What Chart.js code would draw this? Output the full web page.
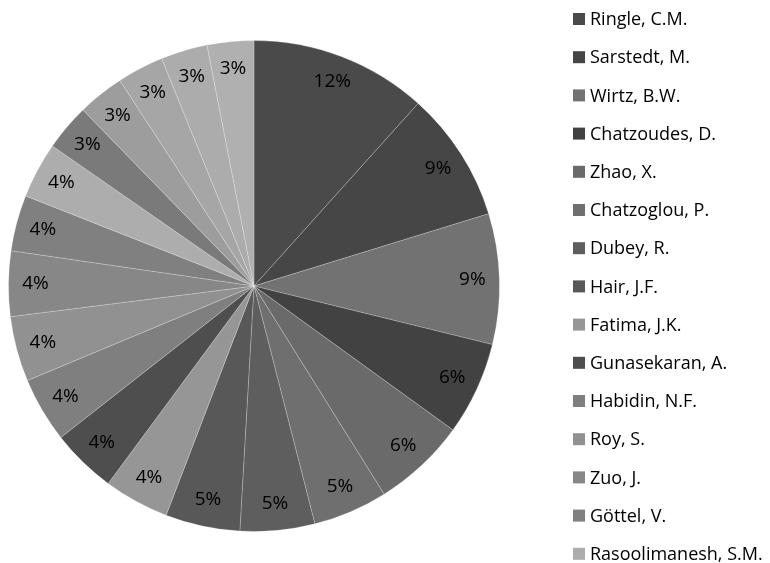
<!DOCTYPE html>
<html>
<head>
<meta charset="utf-8">
<script src="https://cdn.jsdelivr.net/npm/chart.js@4/dist/chart.umd.min.js"></script>
<style>
  html, body { margin: 0; padding: 0; background: #fff; }
  canvas { display: block; }
</style>
</head>
<body>
<canvas id="pie" width="770" height="563"></canvas>
<script>
// Authors (the legend only has room for the first 15, the rest fall off the bottom)
const authors = [
    'Ringle, C.M.', 'Sarstedt, M.', 'Wirtz, B.W.', 'Chatzoudes, D.', 'Zhao, X.',
    'Chatzoglou, P.', 'Dubey, R.', 'Hair, J.F.', 'Fatima, J.K.', 'Gunasekaran, A.',
    'Habidin, N.F.', 'Roy, S.', 'Zuo, J.', 'Göttel, V.', 'Rasoolimanesh, S.M.',
    '', '', '', '', ''
];
// Publication counts
const counts = [19, 14, 14, 10, 10, 8, 8, 8, 7, 7, 7, 7, 7, 6, 6, 5, 5, 5, 5, 5];
const greys = [
    '#4a4a4a', '#464646', '#727272', '#424242', '#6a6a6a',
    '#6f6f6f', '#5e5e5e', '#585858', '#969696', '#4e4e4e',
    '#7f7f7f', '#919191', '#878787', '#808080', '#adadad',
    '#7a7a7a', '#9d9d9d', '#a6a6a6', '#acacac', '#b0b0b0'
];

const FONT = '"Open Sans", "Noto Sans", sans-serif';

// percentage labels inside each slice
const sliceLabels = {
    id: 'sliceLabels',
    afterDatasetsDraw(chart) {
        const ctx = chart.ctx;
        const meta = chart.getDatasetMeta(0);
        const total = counts.reduce((a, b) => a + b, 0);
        ctx.save();
        ctx.font = '19px ' + FONT;
        ctx.fillStyle = '#000';
        ctx.textAlign = 'center';
        ctx.textBaseline = 'middle';
        meta.data.forEach((arc, i) => {
            const p = arc.getProps(['x', 'y', 'startAngle', 'endAngle', 'outerRadius'], true);
            const mid = (p.startAngle + p.endAngle) / 2;
            const r = p.outerRadius * 0.89;
            const pct = Math.round(counts[i] / total * 100) + '%';
            ctx.fillText(pct, p.x + Math.cos(mid) * r, p.y + Math.sin(mid) * r);
        });
        ctx.restore();
    }
};

// legend column on the right, drawn by hand so it can run off the canvas
const sideLegend = {
    id: 'sideLegend',
    afterDraw(chart) {
        const ctx = chart.ctx;
        ctx.save();
        ctx.font = '18px ' + FONT;
        ctx.textBaseline = 'middle';
        authors.forEach((name, i) => {
            const y = 19 + i * 38.2;
            ctx.fillStyle = greys[i];
            ctx.fillRect(573, y - 6, 12, 12);
            ctx.fillStyle = '#000';
            ctx.fillText(name, 590, y + 1);
        });
        ctx.restore();
    }
};

new Chart(document.getElementById('pie'), {
    type: 'pie',
    data: {
        labels: authors,
        datasets: [{
            data: counts,
            backgroundColor: greys,
            borderColor: 'rgba(255,255,255,0.22)',
            borderWidth: 1
        }]
    },
    options: {
        responsive: false,
        animation: false,
        layout: {
            padding: { left: 8, top: 40, right: 270, bottom: 31 }
        },
        plugins: {
            legend: { display: false },
            tooltip: { enabled: false }
        }
    },
    plugins: [sliceLabels, sideLegend]
});
</script>
</body>
</html>
